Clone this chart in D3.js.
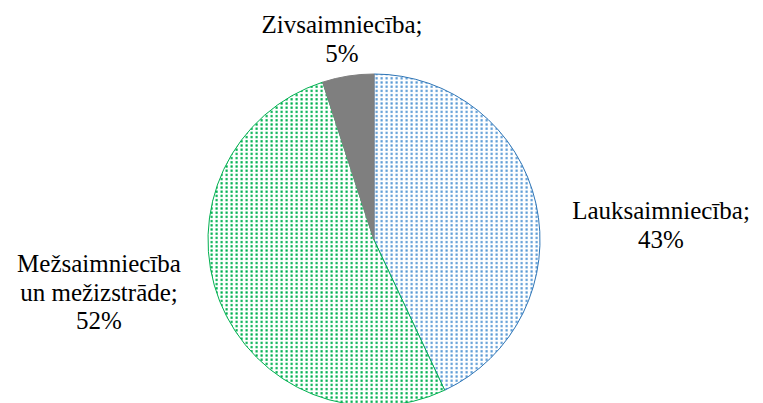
<!DOCTYPE html>
<html><head><meta charset="utf-8">
<script src="https://cdn.jsdelivr.net/npm/d3@7"></script>
<style>
body { margin: 0; }
svg text, svg tspan { font-family: "Liberation Serif", "Times New Roman", serif !important; }
</style>
</head>
<body>
<svg id="chart" width="763" height="403"></svg>
<script>
const categories = ["Lauksaimniecība", "Mežsaimniecība un mežizstrāde", "Zivsaimniecība"];
const values = [43, 52, 5];
const labelLines = [
	["Lauksaimniecība;", "43%"],
	["Mežsaimniecība", "un mežizstrāde;", "52%"],
	["Zivsaimniecība;", "5%"]
];

const cx = 374, cy = 240, radius = 166;

const svg = d3.select("#chart");
const defs = svg.append("defs");

function dotPattern(id, color) {
	let p = defs.append("pattern")
		.attr("id", id)
		.attr("patternUnits", "userSpaceOnUse")
		.attr("width", 5).attr("height", 4.2);
	p.append("rect").attr("width", 5).attr("height", 4.2).attr("fill", "#fff");
	p.append("rect").attr("x", 1.5).attr("y", 1).attr("width", 2.2).attr("height", 2.2).attr("fill", color);
}
dotPattern("dotsBlue", "#5b9bd5");
dotPattern("dotsGreen", "#00b050");

const fills = ["url(#dotsBlue)", "url(#dotsGreen)", "#7f7f7f"];
const strokes = ["#2e75b6", "#00b050", "#7f7f7f"];

const pie = d3.pie().sort(null).value(d => d)(values);
const arc = d3.arc().innerRadius(0).outerRadius(radius);

const g = svg.append("g").attr("transform", `translate(${cx},${cy})`);
g.selectAll(".slice")
	.data(pie).enter()
	.append("path")
	.attr("class", "slice")
	.attr("d", arc)
	.attr("fill", (d, i) => fills[i])
	.attr("stroke", (d, i) => strokes[i])
	.attr("stroke-width", 1);

// centre x and first baseline of each label block
const labelPos = [[661, 219], [99, 272], [342, 33]];
const lineH = 28.5;

labelLines.forEach((lines, i) => {
	lines.forEach((l, j) => {
		svg.append("text")
			.attr("x", labelPos[i][0])
			.attr("y", labelPos[i][1] + j * lineH)
			.attr("text-anchor", "middle")
			.attr("font-family", "Liberation Serif")
			.attr("font-size", 25)
			.text(l);
	});
});
</script>
</body></html>
